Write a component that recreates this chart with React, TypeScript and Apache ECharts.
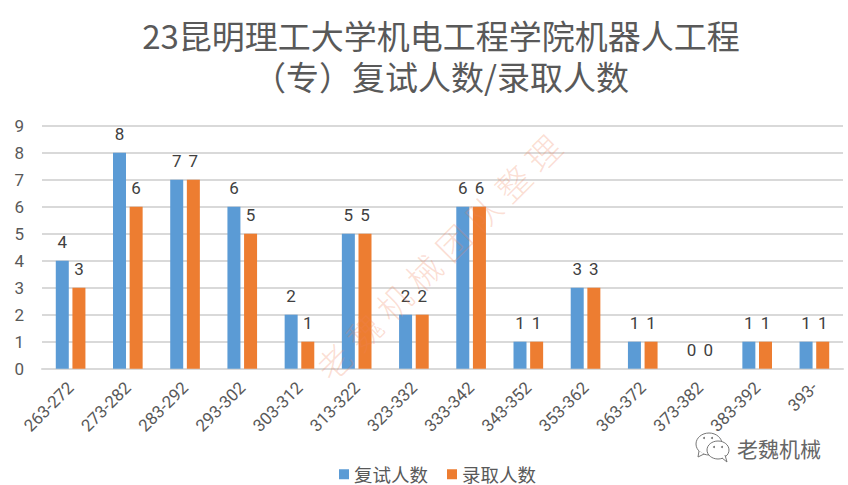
import React, { useEffect, useRef } from "react";
import * as echarts from "echarts";

const titleText = "23昆明理工大学机电工程学院机器人工程\n（专）复试人数/录取人数";
const categories = ["263-272", "273-282", "283-292", "293-302", "303-312", "313-322", "323-332", "333-342", "343-352", "353-362", "363-372", "373-382", "383-392", "393-"];
const retest = [4, 8, 7, 6, 2, 5, 2, 6, 1, 3, 1, 0, 1, 1];
const admitted = [3, 6, 7, 5, 1, 5, 2, 6, 1, 3, 1, 0, 1, 1];
const seriesNames = ["复试人数", "录取人数"];
const watermark = "老魏机械团队整理";
const brand = "老魏机械";

const CJK = '"Noto Sans CJK SC", sans-serif';
const NUM = 'Roboto, "Open Sans", sans-serif';

export default function App() {
  const ref = useRef<HTMLDivElement>(null);
  useEffect(() => {
    document.body.style.margin = "0";
    const chart = echarts.init(ref.current!, undefined, { renderer: "svg" });
    const barSeries = (name: string, data: number[], color: string) => ({
      name,
      type: "bar",
      data,
      barWidth: 13,
      barGap: "28%",
      itemStyle: { color },
      label: { show: true, position: "top", distance: 10, fontFamily: NUM, fontSize: 17, color: "#404040" },
    });
    const bubble = { stroke: "#777", fill: "#fff", lineWidth: 1 };
    const dot = { fill: "#777" };
    const angle = (45 * Math.PI) / 180;
    const step = 42.2;
    const markChars = Array.from(watermark).map((ch, i) => {
      const d = (i - 3.5) * step;
      return {
        type: "text",
        x: 438 + d * Math.cos(angle),
        y: 257 - d * Math.sin(angle),
        rotation: angle,
        z: 100,
        style: {
          text: ch,
          fontFamily: CJK,
          fontSize: 34,
          fontWeight: 300,
          fill: "rgba(240,130,90,0.26)",
          align: "center",
          verticalAlign: "middle",
        },
      };
    });
    chart.setOption({
      animation: false,
      backgroundColor: "#fff",
      title: {
        text: titleText,
        left: 436,
        top: 9,
        textAlign: "center",
        textStyle: { fontFamily: CJK, fontSize: 33, fontWeight: "normal", color: "#595959", lineHeight: 41 },
      },
      legend: {
        left: 334,
        top: 460,
        itemWidth: 10,
        itemHeight: 10,
        itemGap: 19,
        icon: "rect",
        textStyle: { fontFamily: CJK, fontSize: 18.5, color: "#595959" },
        data: seriesNames,
      },
      grid: { left: 42, right: 5, top: 125.7, bottom: 116.3, containLabel: false },
      xAxis: {
        type: "category",
        data: categories,
        axisTick: { show: false },
        axisLine: { lineStyle: { color: "#d9d9d9", width: 2 } },
        axisLabel: { interval: 0, rotate: 45, margin: 16, fontFamily: NUM, fontSize: 17, color: "#595959" },
      },
      yAxis: {
        type: "value",
        min: 0,
        max: 9,
        interval: 1,
        axisLine: { show: false },
        axisTick: { show: false },
        splitLine: { lineStyle: { color: "#d9d9d9", width: 2 } },
        axisLabel: { margin: 18, fontFamily: NUM, fontSize: 17, color: "#595959" },
      },
      series: [barSeries(seriesNames[0], retest, "#5b9bd5"), barSeries(seriesNames[1], admitted, "#ed7d31")],
      graphic: [
        ...markChars,
        { type: "ellipse", z: 101, shape: { cx: 709, cy: 444, rx: 13, ry: 11 }, style: bubble },
        { type: "polyline", z: 101, shape: { points: [[699, 451], [698, 457], [704, 454]] }, style: bubble },
        { type: "circle", z: 102, shape: { cx: 704, cy: 438, r: 1 }, style: dot },
        { type: "circle", z: 102, shape: { cx: 712, cy: 438, r: 1 }, style: dot },
        { type: "ellipse", z: 103, shape: { cx: 718, cy: 450, rx: 11, ry: 9 }, style: bubble },
        { type: "polyline", z: 103, shape: { points: [[722, 458], [727, 462], [725, 455]] }, style: bubble },
        { type: "circle", z: 104, shape: { cx: 714, cy: 447, r: 1 }, style: dot },
        { type: "circle", z: 104, shape: { cx: 722, cy: 447, r: 1 }, style: dot },
        {
          type: "text",
          x: 737,
          y: 448,
          z: 105,
          style: {
            text: brand,
            fontFamily: CJK,
            fontSize: 21,
            fill: "#666",
            stroke: "#fff",
            lineWidth: 2,
            verticalAlign: "middle",
          },
        },
      ],
    });
    return () => chart.dispose();
  }, []);
  return <div ref={ref} style={{ width: 848, height: 485 }} />;
}
